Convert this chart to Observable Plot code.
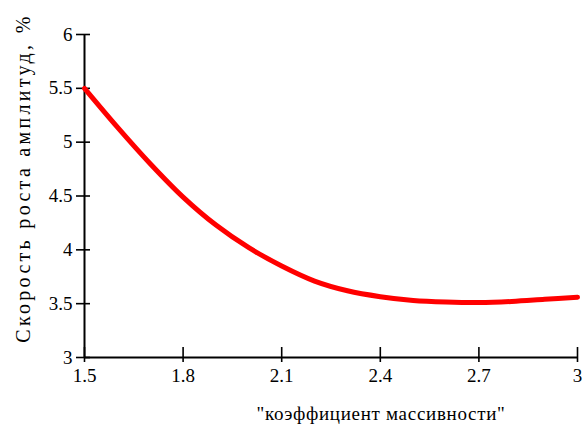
<!DOCTYPE html>
<html>
<head>
<meta charset="utf-8">
<script src="https://cdn.jsdelivr.net/npm/d3@7"></script>
<script src="https://cdn.jsdelivr.net/npm/@observablehq/plot@0.6"></script>
<style>
body { margin: 0; background: #fff; }
</style>
</head>
<body>
<div id="chart"></div>
<script>
const xValues = [1.5, 1.6, 1.7, 1.8, 1.9, 2.0, 2.1, 2.2, 2.3, 2.4, 2.5, 2.6, 2.7, 2.8, 2.9, 3.0];
const yValues = [5.50, 5.14, 4.80, 4.49, 4.23, 4.02, 3.85, 3.71, 3.62, 3.565, 3.53, 3.515, 3.51, 3.52, 3.54, 3.56];
const xTicks = [1.5, 1.8, 2.1, 2.4, 2.7, 3];
const yTicks = [3, 3.5, 4, 4.5, 5, 5.5, 6];
const xLabel = "\"коэффициент массивности\"";
const yLabel = "Скорость роста амплитуд, %";

const data = xValues.map((x, i) => ({x, y: yValues[i]}));

const chart = Plot.plot({
  width: 585,
  height: 437,
  marginLeft: 84,
  marginRight: 8,
  marginTop: 34,
  marginBottom: 80,
  style: {fontFamily: "'Liberation Serif', serif", fontSize: "19px", color: "#000", background: "#fff"},
  x: {domain: [1.5, 3]},
  y: {domain: [3, 6]},
  marks: [
    Plot.axisY(yTicks, {tickSize: 14, dx: 6, tickFormat: () => "", label: null, strokeWidth: 1.6, strokeOpacity: 1}),
    Plot.axisY(yTicks, {tickSize: 0, tickPadding: 12, label: null, tickFormat: d => String(d)}),
    Plot.axisX(xTicks, {tickSize: 15, dy: -10, tickFormat: () => "", label: null, strokeWidth: 1.6, strokeOpacity: 1}),
    Plot.axisX(xTicks, {tickSize: 0, tickPadding: 11, label: null, tickFormat: d => String(d)}),
    Plot.ruleX([1.5], {stroke: "#000", strokeWidth: 2}),
    Plot.ruleY([3], {stroke: "#000", strokeWidth: 2}),
    Plot.line(data, {x: "x", y: "y", stroke: "#ff0000", strokeWidth: 5, curve: "catmull-rom"}),
    Plot.text([yLabel], {frameAnchor: "left", textAnchor: "middle", dx: -61, dy: -18, rotate: -90, text: d => d, fontSize: 20}),
    Plot.text([xLabel], {frameAnchor: "bottom", dx: 50, dy: 62, text: d => d, fontSize: 19})
  ]
});
d3.select(chart).selectAll("text").each(function() {
  const t = this.textContent;
  if (t === yLabel) d3.select(this).attr("letter-spacing", "3.3px");
  if (t === xLabel) d3.select(this).attr("letter-spacing", "0.7px");
});
document.getElementById("chart").append(chart);
</script>
</body>
</html>
